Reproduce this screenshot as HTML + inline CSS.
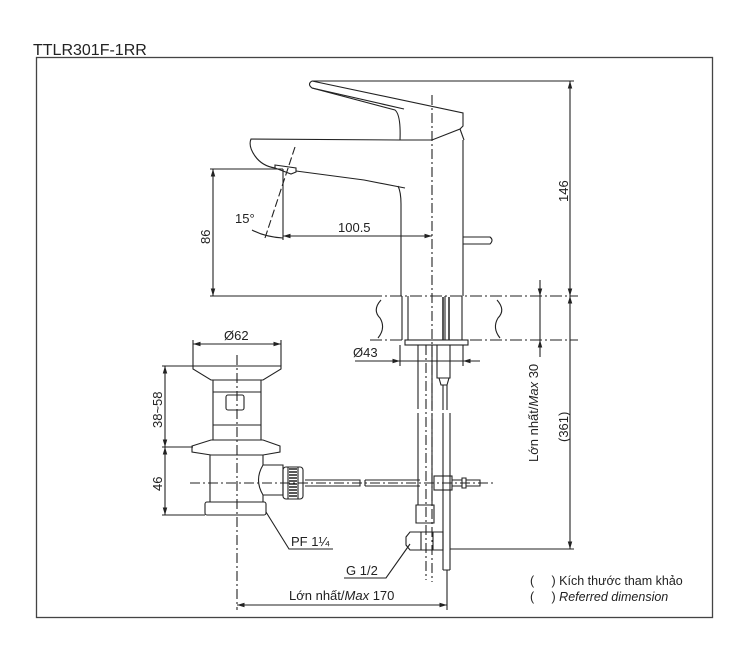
<!DOCTYPE html>
<html><head><meta charset="utf-8"><style>
html,body{margin:0;padding:0;background:#fff;}
svg{display:block;}
text{font-family:"Liberation Sans",Arial,sans-serif;fill:#222;}
</style></head><body>
<svg width="741" height="652" viewBox="0 0 741 652" xmlns="http://www.w3.org/2000/svg">
<defs>
<marker id="a" viewBox="0 0 10 10" refX="10" refY="5" markerWidth="7" markerHeight="7" orient="auto-start-reverse"><path d="M0,2 L10,5 L0,8z" fill="#222"/></marker>
</defs>
<text x="33" y="55" font-size="16">TTLR301F-1RR</text>
<rect x="36.5" y="57.5" width="676" height="560" fill="none" stroke="#444" stroke-width="1.3"/>

<g fill="none" stroke="#222" stroke-width="1.1">
<path d="M312,81 Q307,84 312,88 L395,110 Q401,115 400,140 L432,140 L460,129 L463,126 L463,113 L312,81"/>
<path d="M312,88 L404,109"/>
<path d="M460,129 L464,140"/>
<path d="M400,140 L251,139 Q248,146 255,156 Q262,166 275,168"/>
<path d="M296,171 L364,180 Q395,186 405,188"/>
<path d="M275,165 L296,168 L296,172 L291,174 L275,168z"/>
<path d="M398,186 Q401,192 401,204 L401,296"/>
<path d="M463,140 L463,296"/>
<path d="M463,237 L490,237 Q494,240 490,244 L463,244"/>
<path d="M432,95 L432,582" stroke-dasharray="10,3,2,3"/>
<path d="M295,147 L265,238" stroke-dasharray="8,3"/>
<path d="M283,169 L283,240"/>
<path d="M252,230 Q265,237 283,238"/>
<path d="M210,169 L283,169 M210,296 L370,296"/>
<path d="M213,169 L213,296" marker-start="url(#a)" marker-end="url(#a)"/>
<path d="M283,236 L432,236" marker-start="url(#a)" marker-end="url(#a)"/>
<path d="M312,81 L574,81"/>
<path d="M570,81 L570,296" marker-start="url(#a)" marker-end="url(#a)"/>
<path d="M370,296 L578,296 M370,340 L578,340" stroke-dasharray="12,3,2,3"/>
<path d="M381,300 Q372,310 380,318 Q386,328 378,338"/>
<path d="M497,300 Q506,310 498,318 Q492,328 500,338"/>
<path d="M402,296 L402,340 M462,296 L462,340 M408,296 L408,340 M445,296 L445,340"/>
<rect x="405" y="340" width="63" height="5"/>
<path d="M400,345 L400,366 M463,345 L463,366"/>
<path d="M355,361 L470,361"/>
<path d="M360,361 L400,361" marker-end="url(#a)"/>
<path d="M480,361 L463,361" marker-end="url(#a)"/>
<path d="M418,345 L418,409 M432,345 L432,409 M418,413 L418,505 M432,413 L432,505"/>
<path d="M437,345 L437,378 L450,378 L450,345"/>
<path d="M439,378 L441,385 L447,385 L449,378"/>
<path d="M443,385 L443,410 M447,385 L447,410 M443,413 L443,570 M450,413 L450,570 M443,570 L450,570"/>
<path d="M443,297 L443,340 M449,297 L449,340" stroke-width="1.5"/>
<path d="M416,505 L434,505 L434,523 L416,523z"/>
<path d="M410,532 L443,532 L443,550 L410,550 L406,545 L406,537z M421,532 L421,550 M433,532 L433,550"/>
<path d="M426,345 L426,580" stroke-dasharray="10,3,2,3"/>
<path d="M540,280 L540,296" marker-end="url(#a)"/>
<path d="M540,357 L540,340" marker-end="url(#a)"/>
<path d="M540,296 L540,340"/>
<path d="M570,296 L570,549" marker-start="url(#a)" marker-end="url(#a)"/>
<path d="M450,549 L574,549"/>
<path d="M193,344 L281,344" marker-start="url(#a)" marker-end="url(#a)"/>
<path d="M193,340 L193,366 M281,340 L281,366"/>
<path d="M193,366 L281,366 L281,369 L263,380 L211,380 L193,369z"/>
<path d="M213,380 L213,440 M261,380 L261,440 M213,392 L261,392 M213,425 L261,425"/>
<rect x="226" y="395" width="18" height="15" rx="2"/>
<path d="M211,440 L263,440 L280,446 L280,452 L263,455 L211,455 L192,452 L192,446z"/>
<path d="M210,455 L210,502 M263,455 L263,465 M263,495 L263,502"/>
<path d="M263,465 Q254,480 263,495 L283,495 L283,465z"/>
<rect x="283" y="467" width="20" height="32" rx="3"/>
<path d="M288,467 L288,499 M298,467 L298,499"/>
<path d="M289,469 L297,469 M289,472 L297,472 M289,475 L297,475 M289,478 L297,478 M289,481 L297,481 M289,484 L297,484 M289,487 L297,487 M289,490 L297,490 M289,493 L297,493 M289,496 L297,496" stroke-width="1.5"/>
<rect x="205" y="502" width="61" height="13" rx="2"/>
<path d="M305,480 L360,480 L360,486 L305,486 M365,480 L420,480 M365,486 L420,486 M365,480 L365,486"/>
<rect x="434" y="476" width="18" height="14"/>
<path d="M452,480 L462,480 M452,486 L462,486 M462,478 L462,488 L466,488 L466,478z M466,480 L480,480 L480,486 L466,486"/>
<path d="M190,483 L495,483" stroke-dasharray="10,3,2,3"/>
<path d="M237,355 L237,610" stroke-dasharray="10,3,2,3"/>
<path d="M162,366 L193,366 M162,447 L193,447 M162,515 L205,515"/>
<path d="M165,366 L165,447" marker-start="url(#a)" marker-end="url(#a)"/>
<path d="M165,447 L165,515" marker-start="url(#a)" marker-end="url(#a)"/>
<path d="M266,512 L289,549 L333,549"/>
<path d="M344,578 L386,578 L410,544" />
<path d="M237,605 L447,605" marker-start="url(#a)" marker-end="url(#a)"/>
<path d="M447,570 L447,610"/>
</g>

<text x="235" y="223" font-size="13">15°</text>
<text x="338" y="232" font-size="13">100.5</text>
<text x="0" y="0" font-size="13" transform="translate(210,244) rotate(-90)">86</text>
<text x="0" y="0" font-size="13" transform="translate(568,202) rotate(-90)">146</text>
<text x="224" y="340" font-size="13">Ø62</text>
<text x="353" y="357" font-size="13">Ø43</text>
<text x="0" y="0" font-size="13" transform="translate(162,428) rotate(-90)">38~58</text>
<text x="0" y="0" font-size="13" transform="translate(162,491) rotate(-90)">46</text>
<text x="0" y="0" font-size="13" transform="translate(538,462) rotate(-90)">Lớn nhất/<tspan font-style="italic">Max</tspan> 30</text>
<text x="0" y="0" font-size="13" transform="translate(568,442) rotate(-90)">(361)</text>
<text x="291" y="546" font-size="13">PF 1¼</text>
<text x="346" y="575" font-size="13">G 1/2</text>
<text x="289" y="600" font-size="13">Lớn nhất/<tspan font-style="italic">Max</tspan> 170</text>
<text x="530" y="585" font-size="12.5">(&#160;&#160;&#160;&#160;&#160;) Kích thước tham khảo</text>
<text x="530" y="601" font-size="12.5">(&#160;&#160;&#160;&#160;&#160;) <tspan font-style="italic">Referred dimension</tspan></text>
</svg>
</body></html>
